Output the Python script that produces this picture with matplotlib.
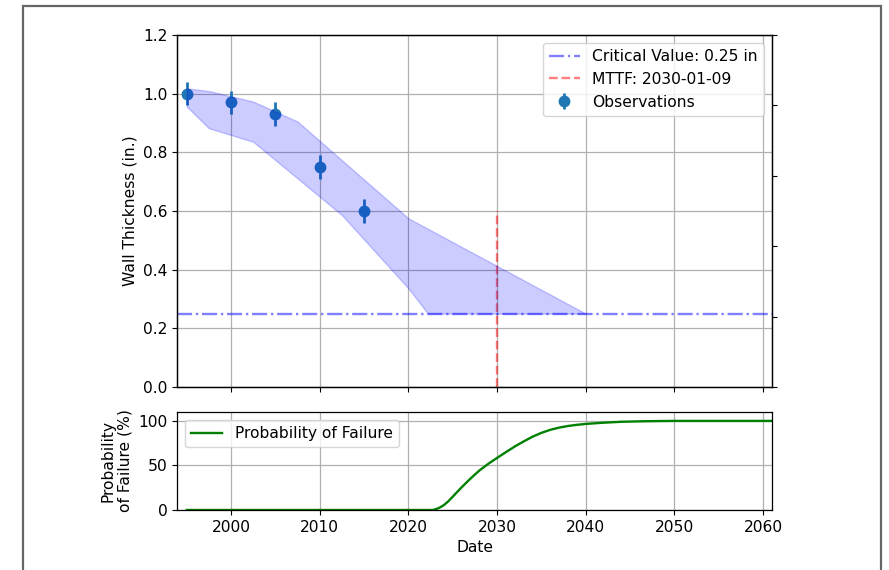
import matplotlib
matplotlib.use("Agg")
import matplotlib.pyplot as plt
from matplotlib.patches import Rectangle
import numpy as np

plt.rcParams["font.size"] = 11.2
plt.rcParams["lines.linewidth"] = 1.7
plt.rcParams["grid.linewidth"] = 0.9
plt.rcParams["axes.linewidth"] = 0.9

# inspection data (year, measured wall thickness in inches)
obs_years = [1995, 2000, 2005, 2010, 2015]
obs_thick = [1.00, 0.97, 0.93, 0.75, 0.60]
obs_err = [0.04, 0.04, 0.04, 0.04, 0.04]

# prediction band
band_upper_years = [1995, 1997.5, 2002.5, 2007.5, 2020, 2040]
band_upper = [1.018, 1.009, 0.973, 0.905, 0.575, 0.25]
band_lower_years = [1995, 1997.5, 2002.5, 2012.5, 2020, 2022.2, 2040]
band_lower = [0.956, 0.882, 0.836, 0.586, 0.336, 0.25, 0.25]

critical = 0.25
mttf_year = 2030.022
mttf_label = "2030-01-09"

# probability of failure over time (%)
pof_years = [1995, 2022.7, 2023, 2023.5, 2024, 2024.5, 2025, 2026, 2027, 2028, 2029, 2030, 2031,
             2032, 2033, 2034, 2035, 2036, 2037, 2038, 2039, 2040, 2042, 2044, 2046, 2048, 2050, 2062]
pof = [0, 0, 0.6, 2.5, 5.5, 9.8, 15.0, 25.5, 35.3, 44.3, 51.8, 58.5, 65.0,
       71.3, 77.0, 82.3, 86.6, 90.0, 92.5, 94.3, 95.6, 96.6, 98.0, 99.0, 99.5, 99.8, 100, 100]

fig = plt.figure(figsize=(8.89, 5.70), dpi=100)
ax = fig.add_axes([0.1991, 0.3211, 0.6693, 0.6175])
ax_p = fig.add_axes([0.1991, 0.1053, 0.6693, 0.1719], sharex=ax)

# put both band edges on one x grid for fill_between
bx = sorted(set(band_upper_years) | set(band_lower_years))
bu = np.interp(bx, band_upper_years, band_upper)
bl = np.interp(bx, band_lower_years, band_lower)

ax.axhline(critical, color="blue", linestyle="-.", alpha=0.5, label="Critical Value: 0.25 in")
ax.plot([mttf_year, mttf_year], [0, 0.6], color="red", linestyle="--", alpha=0.5,
        label="MTTF: " + mttf_label)
ax.errorbar(obs_years, obs_thick, yerr=obs_err, fmt="o", ms=7.5, elinewidth=2,
            color="tab:blue", label="Observations")
ax.fill_between(bx, bl, bu, color="blue", alpha=0.2, zorder=2.5)

ax.set_ylim(0, 1.2)
ax.set_xlim(1993.9, 2061.0)
ax.set_ylabel("Wall Thickness (in.)")
ax.grid(True)
ax.legend(loc="upper right")
ax.tick_params(labelbottom=False)

# secondary y axis on the right, ticks only
ax2 = ax.twinx()
ax2.set_ylim(0, 1)
ax2.set_yticks([0, 0.2, 0.4, 0.6, 0.8, 1.0])
ax2.set_yticklabels([])

ax_p.plot(pof_years, pof, color="green", label="Probability of Failure")
ax_p.set_ylim(0, 110)
ax_p.set_yticks([0, 50, 100])
ax_p.set_xticks([2000, 2010, 2020, 2030, 2040, 2050, 2060])
ax_p.set_ylabel("Probability\nof Failure (%)")
ax_p.set_xlabel("Date")
ax_p.grid(True)
ax_p.legend(loc="upper left")

# frame around the whole figure
fig.patches.append(Rectangle((23 / 889, -0.1), 858 / 889, 1.1 - 6 / 570,
                             transform=fig.transFigure, fill=False,
                             edgecolor="#666666", linewidth=1.6))

fig.savefig("out.png", dpi=100)
